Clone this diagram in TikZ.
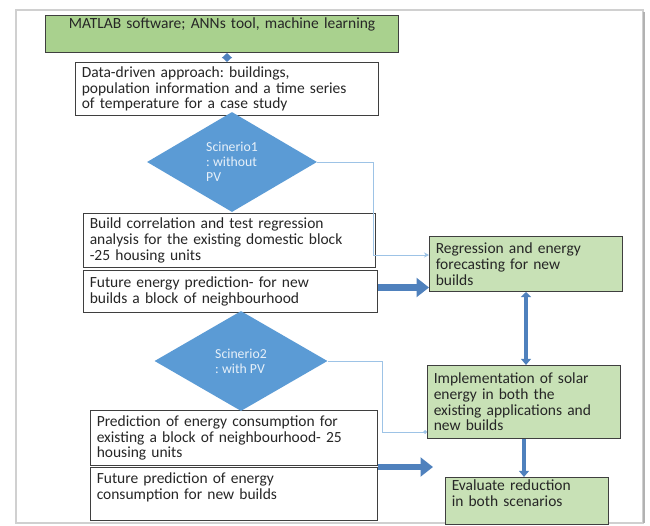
\documentclass[tikz,border=0pt]{standalone}
\usepackage{fontspec}
\setmainfont{Carlito}
\usetikzlibrary{arrows.meta, shapes.geometric}
\definecolor{boxgray}{HTML}{3F3F3F}
\definecolor{topgreen}{HTML}{A9D18E}
\definecolor{lgreen}{HTML}{C8E1B6}
\definecolor{dmblue}{HTML}{5B9BD5}
\definecolor{fatblue}{HTML}{4F81BD}
\definecolor{thinblue}{HTML}{9DC3E6}
\definecolor{framegray}{HTML}{D0D0D0}
\frenchspacing

\begin{document}
\begin{tikzpicture}[
        x=0.8pt, y=-0.8pt,
        bx/.style={draw=boxgray, line width=0.8pt, fill=white, align=left,
          anchor=north west, inner xsep=5pt, inner ysep=2pt, text=black!85,
          font=\fontsize{12.4}{12.6}\selectfont},
        gbx/.style={bx, fill=lgreen},
        dm/.style={diamond, fill=dmblue, text=white!85!dmblue, align=left, inner sep=0pt,
          font=\fontsize{11}{12}\selectfont},
        fat/.style={fatblue, line width=5pt, -{Triangle[width=15pt,length=10pt]}},
        vfat/.style={fatblue, line width=3.5pt},
        thinline/.style={thinblue, line width=0.7pt},
      ]
      \fill[white] (0,0) rectangle (650,526);
      \useasboundingbox (0,0) rectangle (650,526);
      \draw[framegray, line width=1.5pt] (16,10) rectangle (643,523);
      \draw[black!30, line width=1.5pt] (644,12) -- (644,523);

      % left column
      \node[bx, fill=topgreen, align=center, minimum width=282.4pt, text width=272.4pt,
        text height=8.5pt, text depth=17.1pt] (tool) at (45,15) {MATLAB software; ANNs tool, machine learning};
      \node[bx, minimum width=242.4pt, text width=232.4pt, minimum height=42.4pt] (data) at (75,62)
        {Data-driven approach: buildings,\\population information and a time series\\of temperature for a case study};
      \node[bx, minimum width=233.6pt, text width=223.6pt, minimum height=43.2pt] (build) at (83,213)
        {Build correlation and test regression\\analysis for the existing domestic block\\-25 housing units};
      \node[bx, minimum width=235.2pt, text width=225.2pt, minimum height=33.6pt] (fut1) at (83,270)
        {Future energy prediction- for new\\builds a block of neighbourhood};
      \node[bx, minimum width=229.6pt, text width=219.6pt, minimum height=44pt] (pred) at (90,410)
        {Prediction of energy consumption for\\existing a block of neighbourhood- 25\\housing units};
      \node[bx, minimum width=229.6pt, text width=219.6pt, minimum height=42.4pt] (fut2) at (90,467)
        {Future prediction of energy\\consumption for new builds\\\mbox{}};

      % right column
      \node[gbx, minimum width=154.4pt, text width=144.4pt, minimum height=44pt] (regr) at (429,236)
        {Regression and energy\\forecasting for new\\builds};
      \node[gbx, minimum width=154.4pt, text width=144.4pt, minimum height=58.4pt] (impl) at (427,365)
        {Implementation of solar\\energy in both the\\existing applications and\\new builds};
      \node[gbx, minimum width=130.4pt, text width=120.4pt, minimum height=36.8pt] (eval) at (445,477)
        {Evaluate reduction\\in both scenarios\\\mbox{}};

      % scenarios
      \node[dm, minimum width=136pt, minimum height=80pt] (sc1) at (232,162) {Scinerio1\\: without\\PV};
      \node[dm, minimum width=138.4pt, minimum height=80pt] (sc2) at (241,361) {Scinerio2\\: with PV};

      % connectors
      \draw[vfat, line width=3pt, {Triangle[width=8pt,length=4pt]}-{Triangle[width=8pt,length=4pt]}]
        (data.north) -- (data.north |- tool.south);
      \coordinate (k1) at (373,255);
      \draw[thinline, -{Stealth[length=4pt,width=4pt]}] (sc1.east) -| (k1) -- (k1 -| regr.west);
      \coordinate (k2) at (382,432);
      \draw[thinline, -{Circle[length=3pt]}] (sc2.east) -| (k2) -- (k2 -| impl.west);
      \path (fut1.east) ++(0,-4) coordinate (s1);
      \draw[fat] (s1) -- (s1 -| regr.west);
      \coordinate (s2) at (fut2.north east);
      \coordinate (e2) at (433,467);
      \draw[fat] (s2) -- (e2);
      \draw[vfat, {Triangle[width=8pt,length=4pt]}-{Triangle[width=8pt,length=5pt]}]
        (regr.south) -- (regr.south |- impl.north);
      \draw[vfat, -{Triangle[width=8pt,length=5pt]}] (impl.south) -- (impl.south |- eval.north);
    \end{tikzpicture}
\end{document}
